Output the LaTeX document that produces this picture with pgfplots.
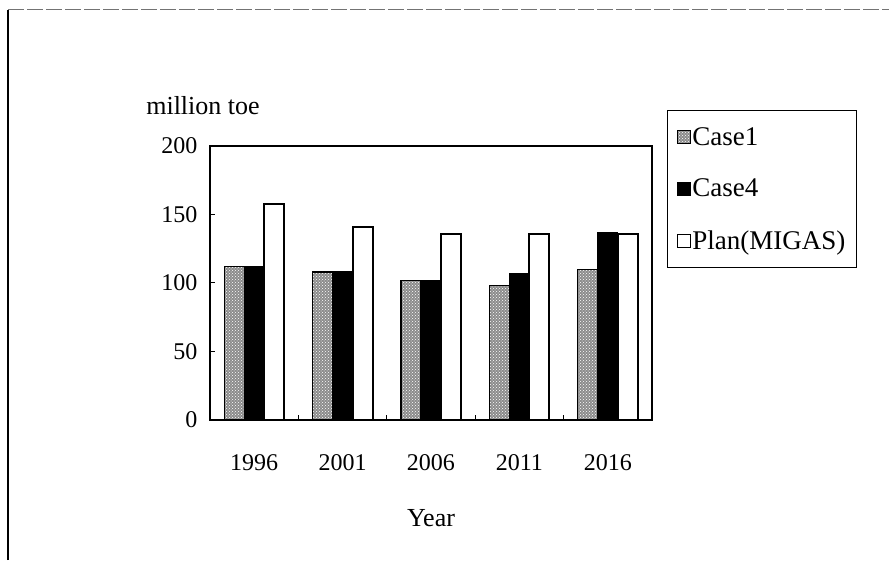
\documentclass[border=0pt]{standalone}
\usepackage{pgfplots}
\pgfplotsset{compat=1.18}
\usepackage{fontspec}
\setmainfont{Liberation Serif}
\usetikzlibrary{patterns}

\newcommand{\tickfnt}{\fontsize{24}{24}\selectfont}
\newcommand{\labelfnt}{\fontsize{26}{26}\selectfont}
\newcommand{\legendfnt}{\fontsize{27}{27}\selectfont}

\begin{document}
\begin{tikzpicture}
\path[use as bounding box] (0pt,0pt) rectangle (889pt,560pt);
% page frame
\draw[line width=1.8pt] (8pt,0pt) -- (8pt,550pt);
\draw[line width=1pt, black!55, dash pattern=on 16pt off 3pt] (8pt,550pt) -- (889pt,550pt);

\begin{axis}[
  at={(210pt,140pt)}, anchor=south west,
  scale only axis, width=442pt, height=274pt,
  xmin=-0.5, xmax=4.5, ymin=0, ymax=200,
  /pgf/number format/assume math mode=true,
  axis line style={line width=1.6pt},
  tick align=inside,
  tick style={line width=1pt, black},
  major tick length=5pt,
  ytick={0,50,...,200},
  ytick pos=left, xtick pos=bottom,
  yticklabel style={font=\tickfnt, xshift=-9pt},
  xtick={0.5,1.5,2.5,3.5},
  xticklabels={,,,},
  extra x ticks={0,1,2,3,4},
  extra x tick labels={1996,2001,2006,2011,2016},
  extra x tick style={major tick length=0pt,
     xticklabel style={font=\tickfnt, yshift=-31pt}},
  bar width=20pt,
  legend style={at={(1.034,1.131)}, anchor=north west,
     draw=black, line width=1pt, font=\legendfnt,
     inner xsep=9pt, inner ysep=15pt, row sep=28pt,
     cells={anchor=west}},
  legend image code/.code={\draw[#1, line width=0.8pt] (0pt,-6.5pt) rectangle (13pt,6.5pt);},
]
\addplot[ybar, bar shift=-20pt, draw=black, line width=1.2pt,
         fill=black!45, postaction={pattern=crosshatch dots, pattern color=white}]
  coordinates {(0,112) (1,108) (2,102) (3,98) (4,110)};
\addplot[ybar, bar shift=0pt, draw=black, fill=black, line width=1.2pt]
  coordinates {(0,112) (1,108) (2,102) (3,107) (4,137)};
\addplot[ybar, bar shift=20pt, draw=black, fill=white, line width=2pt]
  coordinates {(0,158) (1,141) (2,136) (3,136) (4,136)};
\legend{Case1, Case4, Plan(MIGAS)}
\end{axis}

\node[font=\labelfnt] at (203pt,454pt) {million toe};
\node[font=\labelfnt] at (431pt,42pt) {Year};
\end{tikzpicture}
\end{document}
